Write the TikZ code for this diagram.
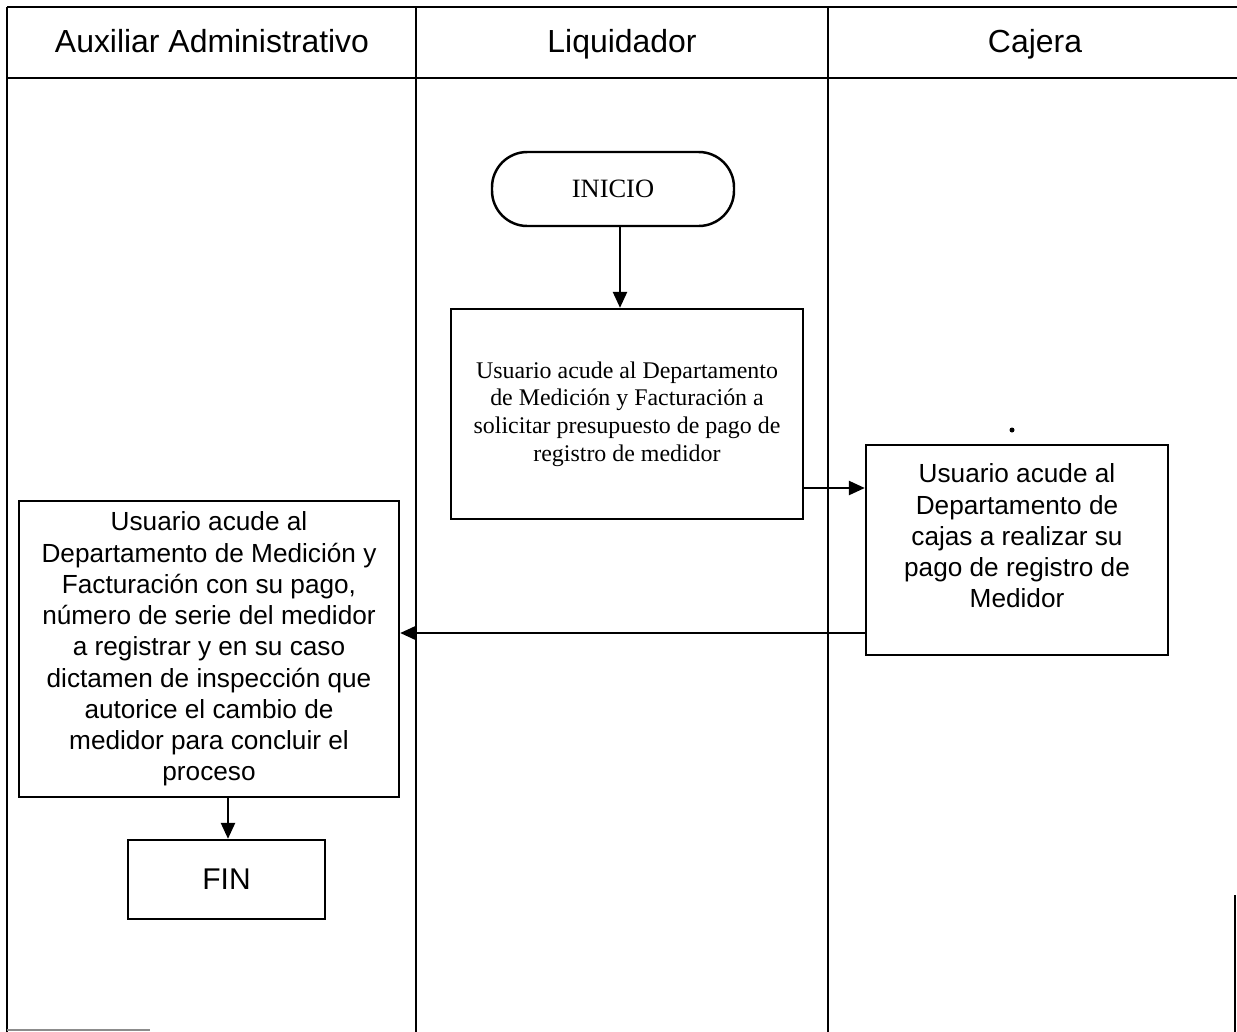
\documentclass[tikz,border=0pt]{standalone}
\usepackage{fontspec}
\setmainfont{Liberation Serif}
\newfontfamily\arialf{Liberation Sans}
\usetikzlibrary{arrows.meta}
\def\pxu{0.5669pt}
\tikzset{
  lane/.style={line width=1.1pt, black},
  procbox/.style={draw, line width=1.4pt, rectangle, inner sep=0pt},
  arr/.style={line width=1.1pt, -{Triangle[length=9pt,width=8pt]}},
  headtxt/.style={font=\arialf\fontsize{18.1}{21}\selectfont, inner sep=0pt, anchor=base},
  sanstxt/.style={font=\arialf\fontsize{14.85}{17.7}\selectfont, align=center, inner sep=0pt},
  seriftxt/.style={font=\fontsize{13.55}{15.7}\selectfont, align=center},
}
\begin{document}
\begin{tikzpicture}[x=0.5669pt, y=-0.5669pt]
\useasboundingbox (0,0) rectangle (1237,1032);
\fill[white] (0,0) rectangle (1237,1032);
% swimlane frame
\draw[lane] (7,7) -- (1237,7);
\draw[lane] (7,78) -- (1237,78);
\draw[lane] (7,7) -- (7,1032);
\draw[lane] (416,7) -- (416,1032);
\draw[lane] (828,7) -- (828,1032);
\draw[lane] (1235,895) -- (1235,1032);
\draw[line width=1pt, black!45] (7,1030) -- (150,1030);
% headers
\node[headtxt] (h1) at (212,52) {Auxiliar Administrativo};
\node[headtxt] (h2) at (622,52) {Liquidador};
\node[headtxt] (h3) at (1035,52) {Cajera};
% nodes
\node[procbox, rounded corners=20pt, minimum width=242*\pxu, minimum height=74*\pxu,
      font=\fontsize{15}{17}\selectfont] (inicio) at (613,189) {INICIO};
\node[procbox, minimum width=352*\pxu, minimum height=210*\pxu, seriftxt] (box1) at (627,414)
  {Usuario acude al Departamento\\ de Medición y Facturación a\\ solicitar presupuesto de pago de\\ registro de medidor};
\node[procbox, minimum width=302*\pxu, minimum height=210*\pxu] (box2) at (1017,550) {};
\node[sanstxt] (box2text) at (1017,536)
  {Usuario acude al\\ Departamento de\\ cajas a realizar su\\ pago de registro de\\ Medidor};
\node[procbox, minimum width=380*\pxu, minimum height=296*\pxu, sanstxt] (box3) at (209,649)
  {Usuario acude al\\ Departamento de Medición y\\ Facturación con su pago,\\ número de serie del medidor\\ a registrar y en su caso\\ dictamen de inspección que\\ autorice el cambio de\\ medidor para concluir el\\ proceso};
\node[procbox, minimum width=197*\pxu, minimum height=79*\pxu,
      font=\arialf\fontsize{17}{20}\selectfont] (fin) at (226.5,879.5) {FIN};
\fill (1012,430) circle (2.5);
% connectors
\coordinate (xa) at (620,0);
\coordinate (ya) at (0,488);
\coordinate (yb) at (0,633);
\coordinate (xb) at (228,0);
\draw[arr] (inicio.south -| xa) -- (box1.north -| xa);
\draw[arr] (box1.east |- ya) -- (box2.west |- ya);
\draw[arr] (box2.west |- yb) -- (box3.east |- yb);
\draw[arr] (box3.south -| xb) -- (fin.north -| xb);
\end{tikzpicture}
\end{document}
